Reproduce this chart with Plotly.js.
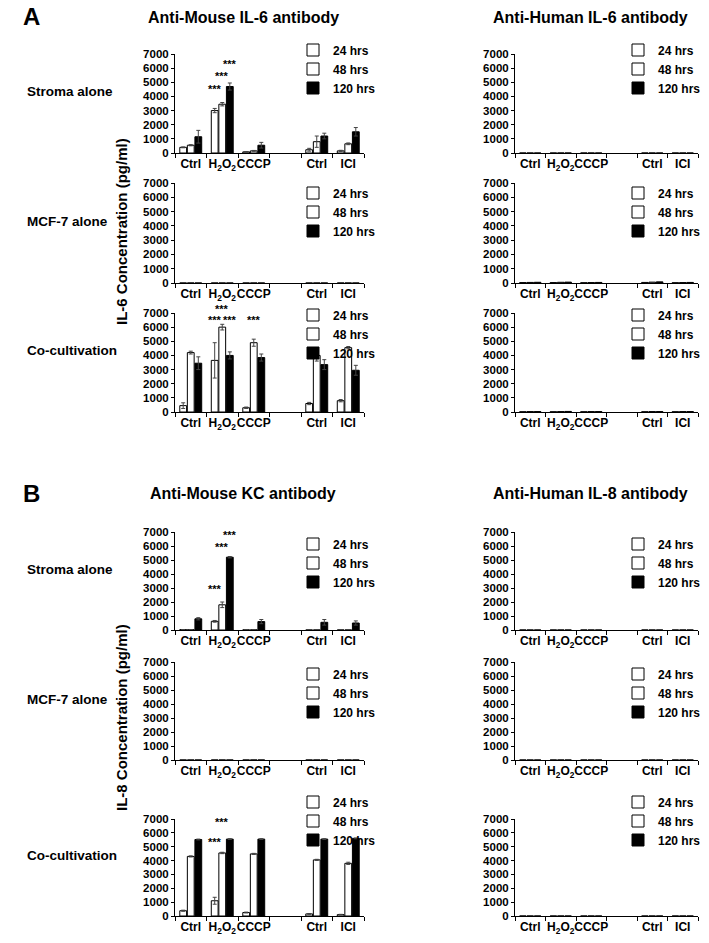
<!DOCTYPE html>
<html>
<head>
<meta charset="utf-8">
<script src="https://cdn.plot.ly/plotly-3.0.1.min.js"></script>
<style>html,body{margin:0;padding:0;background:#fff;}#chart{width:709px;height:943px;}</style>
</head>
<body>
<div id="chart"></div>
<script>
// ---------- categories / labels ----------
const slots = [0, 1, 2, 3, 4, 5];
const slotLabels = ['Ctrl', 'H<sub>2</sub>O<sub>2</sub>', 'CCCP', '', 'Ctrl', 'ICI'];
const seriesNames = ['24 hrs', '48 hrs', '120 hrs'];
const rowLabels = ['Stroma alone', 'MCF-7 alone', 'Co-cultivation'];
const colTitlesA = ['Anti-Mouse IL-6 antibody', 'Anti-Human IL-6 antibody'];
const colTitlesB = ['Anti-Mouse KC antibody', 'Anti-Human IL-8 antibody'];
const yTitleA = 'IL-6 Concentration (pg/ml)';
const yTitleB = 'IL-8 Concentration (pg/ml)';
const yTicks = [0, 1000, 2000, 3000, 4000, 5000, 6000, 7000];

// ---------- A: IL-6, anti-mouse ----------
const A_mouse_stroma_24  = [400, 3000, 80, null, 230, 150];
const A_mouse_stroma_48  = [550, 3450, 150, null, 800, 650];
const A_mouse_stroma_120 = [1150, 4700, 550, null, 1200, 1500];
const A_mouse_stroma_24e  = [30, 150, 20, null, 100, 40];
const A_mouse_stroma_48e  = [40, 120, 30, null, 400, 60];
const A_mouse_stroma_120e = [450, 250, 200, null, 200, 300];

const A_mouse_mcf_24  = [0, 0, 0, null, 0, 0];
const A_mouse_mcf_48  = [0, 0, 0, null, 0, 0];
const A_mouse_mcf_120 = [0, 0, 0, null, 0, 0];

const A_mouse_co_24  = [450, 3650, 300, null, 600, 800];
const A_mouse_co_48  = [4200, 6000, 4900, null, 4000, 4550];
const A_mouse_co_120 = [3450, 4000, 3850, null, 3350, 2950];
const A_mouse_co_24e  = [200, 1250, 50, null, 80, 80];
const A_mouse_co_48e  = [100, 200, 250, null, 400, 80];
const A_mouse_co_120e = [450, 250, 250, null, 350, 350];

// ---------- A: IL-6, anti-human ----------
const A_human_stroma_24  = [0, 0, 0, null, 0, 0];
const A_human_stroma_48  = [0, 0, 0, null, 0, 0];
const A_human_stroma_120 = [0, 0, 0, null, 0, 0];

const A_human_mcf_24  = [30, 30, 20, null, 40, 20];
const A_human_mcf_48  = [40, 50, 30, null, 60, 30];
const A_human_mcf_120 = [50, 60, 40, null, 80, 40];

const A_human_co_24  = [20, 20, 20, null, 20, 20];
const A_human_co_48  = [30, 30, 30, null, 30, 30];
const A_human_co_120 = [30, 40, 30, null, 30, 30];

// ---------- B: KC / IL-8, anti-mouse ----------
const B_mouse_stroma_24  = [30, 620, 10, null, 0, 0];
const B_mouse_stroma_48  = [20, 1800, 10, null, 0, 0];
const B_mouse_stroma_120 = [800, 5200, 600, null, 550, 500];
const B_mouse_stroma_24e  = [0, 60, 0, null, 0, 0];
const B_mouse_stroma_48e  = [0, 200, 0, null, 0, 0];
const B_mouse_stroma_120e = [80, 50, 150, null, 200, 150];

const B_mouse_mcf_24  = [0, 0, 0, null, 0, 0];
const B_mouse_mcf_48  = [0, 0, 0, null, 0, 0];
const B_mouse_mcf_120 = [0, 0, 0, null, 0, 0];

const B_mouse_co_24  = [380, 1100, 250, null, 150, 100];
const B_mouse_co_48  = [4300, 4550, 4480, null, 4050, 3800];
const B_mouse_co_120 = [5520, 5550, 5550, null, 5550, 5600];
const B_mouse_co_24e  = [40, 250, 30, null, 30, 20];
const B_mouse_co_48e  = [40, 50, 40, null, 40, 80];
const B_mouse_co_120e = [30, 30, 30, null, 30, 30];

// ---------- B: IL-8, anti-human ----------
const B_zero = [0, 0, 0, null, 0, 0];

// ---------- significance labels: [slot, series index, text, label base height] ----------
const starsA_mouse_stroma = [[1, 0, '***', 3950], [1, 1, '***', 4850], [1, 2, '***', 5750]];
const starsA_mouse_co = [[1, 0, '***', 5950], [1, 1, '***', 6750], [1, 2, '***', 5950], [2, 1, '***', 5950]];
const starsB_mouse_stroma = [[1, 0, '***', 2350], [1, 1, '***', 5380], [1, 2, '***', 6250]];
const starsB_mouse_co = [[1, 0, '***', 4780], [1, 1, '***', 6200], [1, 2, '*', 7400]];

// ---------- panel layout (pixels) ----------
const W = 709, H = 943;
const colX = [[175, 364], [515, 698]];
const rowY = [[54, 153], [183, 283], [313, 412], [532, 630], [662, 760], [819, 916]];
const legendX = [293, 618];
const legendMidY = [69, 212, 334, 563, 693, 821];
const titleX = [243, 590];

const panels = [
  {r: 0, c: 0, v: [A_mouse_stroma_24, A_mouse_stroma_48, A_mouse_stroma_120], e: [A_mouse_stroma_24e, A_mouse_stroma_48e, A_mouse_stroma_120e], s: starsA_mouse_stroma},
  {r: 0, c: 1, v: [A_human_stroma_24, A_human_stroma_48, A_human_stroma_120]},
  {r: 1, c: 0, v: [A_mouse_mcf_24, A_mouse_mcf_48, A_mouse_mcf_120]},
  {r: 1, c: 1, v: [A_human_mcf_24, A_human_mcf_48, A_human_mcf_120]},
  {r: 2, c: 0, v: [A_mouse_co_24, A_mouse_co_48, A_mouse_co_120], e: [A_mouse_co_24e, A_mouse_co_48e, A_mouse_co_120e], s: starsA_mouse_co},
  {r: 2, c: 1, v: [A_human_co_24, A_human_co_48, A_human_co_120]},
  {r: 3, c: 0, v: [B_mouse_stroma_24, B_mouse_stroma_48, B_mouse_stroma_120], e: [B_mouse_stroma_24e, B_mouse_stroma_48e, B_mouse_stroma_120e], s: starsB_mouse_stroma},
  {r: 3, c: 1, v: [B_zero, B_zero, B_zero]},
  {r: 4, c: 0, v: [B_mouse_mcf_24, B_mouse_mcf_48, B_mouse_mcf_120]},
  {r: 4, c: 1, v: [B_zero, B_zero, B_zero]},
  {r: 5, c: 0, v: [B_mouse_co_24, B_mouse_co_48, B_mouse_co_120], e: [B_mouse_co_24e, B_mouse_co_48e, B_mouse_co_120e], s: starsB_mouse_co},
  {r: 5, c: 1, v: [B_zero, B_zero, B_zero]}
];

const FONT = 'Liberation Sans, Arial, Helvetica, sans-serif';
const fills = ['#ffffff', '#ffffff', '#000000'];
const bargap = 0.28, bargroupgap = 0.1;
const barStep = (1 - bargap) / 3;
const offsets = [-barStep, 0, barStep];

const traces = [];
const layout = {
  width: W, height: H,
  margin: {l: 0, r: 0, t: 0, b: 0},
  paper_bgcolor: '#fff', plot_bgcolor: 'rgba(0,0,0,0)',
  barmode: 'group', bargap: bargap, bargroupgap: bargroupgap,
  showlegend: true,
  font: {family: FONT, color: '#000'},
  annotations: []
};

panels.forEach((p, i) => {
  const n = i + 1;
  const sfx = n === 1 ? '' : String(n);
  const xa = 'x' + sfx, ya = 'y' + sfx, lg = 'legend' + sfx;
  const [x0, x1] = colX[p.c];
  const [y0, y1] = rowY[p.r];
  layout['xaxis' + sfx] = {
    domain: [x0 / W, x1 / W], anchor: ya,
    range: [-0.5, 5.5], tickmode: 'array', tickvals: slots, ticktext: slotLabels,
    tickangle: 0, automargin: false,
    ticks: '', showline: true, linecolor: '#000', linewidth: 1, showgrid: false, zeroline: false,
    tickfont: {family: FONT, size: 12, weight: 'bold', color: '#000'},
    minor: {tickmode: 'linear', tick0: -0.5, dtick: 1, ticks: 'outside', ticklen: 4, tickcolor: '#000', tickwidth: 1, showgrid: false},
    fixedrange: true
  };
  layout['yaxis' + sfx] = {
    domain: [1 - y1 / H, 1 - y0 / H], anchor: xa,
    range: [0, 7000], tickmode: 'array', tickvals: yTicks,
    ticks: 'outside', ticklen: 3, tickcolor: '#000', showline: true, linecolor: '#000', linewidth: 1,
    showgrid: false, zeroline: false, automargin: false,
    tickfont: {family: FONT, size: 11.5, weight: 'bold', color: '#000'},
    fixedrange: true
  };
  layout[lg] = {
    x: legendX[p.c] / W, y: 1 - legendMidY[p.r] / H, xanchor: 'left', yanchor: 'middle',
    bgcolor: 'rgba(0,0,0,0)', borderwidth: 0,
    font: {family: FONT, size: 12, weight: 'bold', color: '#000'},
    itemwidth: 30, tracegroupgap: 0
  };
  for (let k = 0; k < 3; k++) {
    const tr = {
      type: 'bar', x: slots, y: p.v[k], name: seriesNames[k],
      xaxis: xa, yaxis: ya, legend: lg, showlegend: true,
      marker: {color: fills[k], line: {color: '#000', width: 1}},
      hoverinfo: 'skip'
    };
    if (p.e) {
      tr.error_y = {type: 'data', array: p.e[k], visible: true, color: '#444', thickness: 1, width: 2};
    }
    traces.push(tr);
  }
  if (p.s) {
    p.s.forEach(st => {
      layout.annotations.push({
        xref: xa, yref: ya, x: st[0] + offsets[st[1]], y: st[3], text: st[2],
        showarrow: false, yanchor: 'bottom', xanchor: 'center',
        font: {family: FONT, size: 11, color: '#000', weight: 'bold'}
      });
    });
  }
  if (p.c === 0) {
    layout.annotations.push({
      xref: 'paper', yref: 'paper', x: 25 / W, y: 1 - ((y0 + y1) / 2 - 12) / H,
      text: rowLabels[p.r % 3], showarrow: false, xanchor: 'left', yanchor: 'middle',
      font: {family: FONT, size: 13.5, weight: 'bold', color: '#000'}
    });
  }
});

// section letters, column titles, y titles
const sec = [
  {letter: 'A', y: 16, titles: colTitlesA, ty: 17, ytitle: yTitleA, yc: 232},
  {letter: 'B', y: 493, titles: colTitlesB, ty: 493, ytitle: yTitleB, yc: 718}
];
sec.forEach(s => {
  layout.annotations.push({xref: 'paper', yref: 'paper', x: 31 / W, y: 1 - s.y / H, text: s.letter,
    showarrow: false, xanchor: 'center', yanchor: 'middle', font: {family: FONT, size: 24, weight: 'bold', color: '#000'}});
  s.titles.forEach((t, c) => {
    layout.annotations.push({xref: 'paper', yref: 'paper', x: titleX[c] / W, y: 1 - s.ty / H, text: t,
      showarrow: false, xanchor: 'center', yanchor: 'middle', font: {family: FONT, size: 16, weight: 'bold', color: '#000'}});
  });
  layout.annotations.push({xref: 'paper', yref: 'paper', x: 121 / W, y: 1 - s.yc / H, text: s.ytitle, textangle: -90,
    showarrow: false, xanchor: 'center', yanchor: 'middle', font: {family: FONT, size: 15, weight: 'bold', color: '#000'}});
});

Plotly.newPlot('chart', traces, layout, {displayModeBar: false, staticPlot: true});
</script>
</body>
</html>
